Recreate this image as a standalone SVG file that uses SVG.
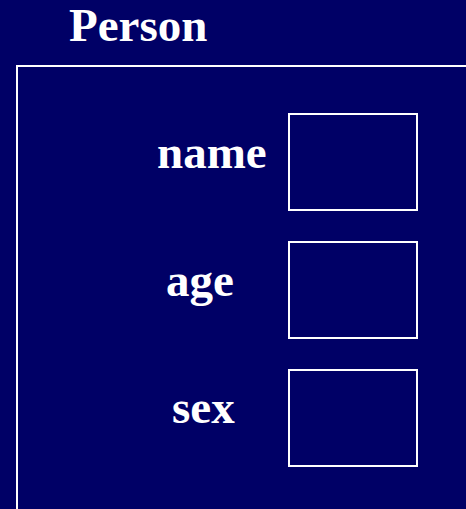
<svg xmlns="http://www.w3.org/2000/svg" width="466" height="509" viewBox="0 0 466 509">
<style>
.lbl{font-family:"Liberation Serif","DejaVu Serif",serif;font-weight:bold;font-size:47px;fill:#ffffff}
.box{fill:none;stroke:#ffffff;stroke-width:2}
</style>
<rect x="0" y="0" width="466" height="509" fill="#000066"/>
<g id="person">
<text class="lbl" x="69" y="41" font-size="45">Person</text>
<rect class="box" x="17" y="66" width="470" height="470"/>
</g>
<g id="name">
<text class="lbl" x="157" y="168">name</text>
<rect class="box" x="289" y="114" width="128" height="96"/>
</g>
<g id="age">
<text class="lbl" x="166" y="296">age</text>
<rect class="box" x="289" y="242" width="128" height="96"/>
</g>
<g id="sex">
<text class="lbl" x="172" y="423">sex</text>
<rect class="box" x="289" y="370" width="128" height="96"/>
</g>
<g id="connectors"></g>
</svg>
